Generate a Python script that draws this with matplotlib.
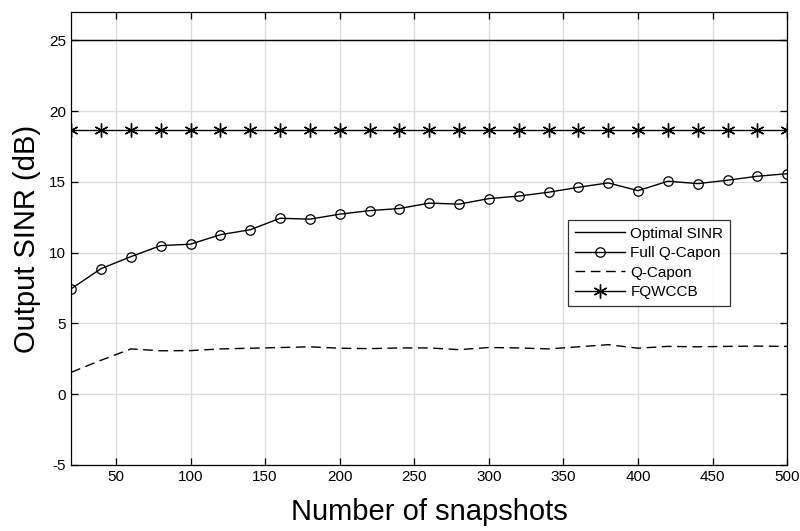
import numpy as np
import matplotlib
matplotlib.use("Agg")
import matplotlib.pyplot as plt

plt.rcParams['font.family'] = ['Liberation Sans', 'DejaVu Sans']
plt.rcParams['axes.unicode_minus'] = False

snapshots = list(range(20, 501, 20))
optimal_sinr = [25.0] * len(snapshots)
full_qcapon = [7.45, 8.87, 9.72, 10.5, 10.6, 11.27, 11.62, 12.43, 12.37, 12.72, 12.97, 13.12,
               13.5, 13.43, 13.82, 14.0, 14.27, 14.62, 14.93, 14.38, 15.05, 14.88, 15.12, 15.4, 15.58]
qcapon = [1.55, 2.4, 3.2, 3.07, 3.08, 3.2, 3.25, 3.3, 3.35, 3.25, 3.22, 3.27, 3.27, 3.15,
          3.3, 3.27, 3.2, 3.35, 3.5, 3.25, 3.38, 3.35, 3.38, 3.4, 3.38]
fqwccb = [18.7] * len(snapshots)

fig = plt.figure(figsize=(8, 5.31), dpi=100)
ax = fig.add_axes([0.089, 0.1243, 0.895, 0.853])

ax.plot(snapshots, optimal_sinr, 'k-', lw=1.0, label='Optimal SINR')
ax.plot(snapshots, full_qcapon, 'k-', lw=1.0, marker='o', ms=6.8, mfc='none', mew=0.9,
        label='Full Q-Capon')
ax.plot(snapshots, qcapon, 'k--', lw=1.0, dashes=(7, 4), label='Q-Capon')
# MATLAB-like asterisk marker
ax.plot(snapshots, fqwccb, 'k-', lw=1.0, marker=(6, 2, 0), ms=10, mew=1.0, label='FQWCCB')

ax.set_xlim(20, 500)
ax.set_ylim(-5, 27)
ax.set_xticks(np.arange(50, 501, 50))
ax.set_yticks(np.arange(-5, 26, 5))
ax.grid(True, color='#dcdcdc', lw=1.0)
ax.set_axisbelow(True)
ax.tick_params(direction='in', top=True, right=True, length=5, labelsize=11, width=0.9)
for s in ax.spines.values():
    s.set_linewidth(0.9)

ax.set_xlabel('Number of snapshots', fontsize=21, labelpad=10)
ax.set_ylabel('Output SINR (dB)', fontsize=21, labelpad=6)

leg = ax.legend(loc='upper left', bbox_to_anchor=(0.694, 0.541), fontsize=11,
                frameon=True, fancybox=False, edgecolor='black', handlelength=3.3,
                borderpad=0.45, labelspacing=0.35, handletextpad=0.33, borderaxespad=0)
leg.get_frame().set_linewidth(0.9)

fig.savefig('out.png', dpi=100)
